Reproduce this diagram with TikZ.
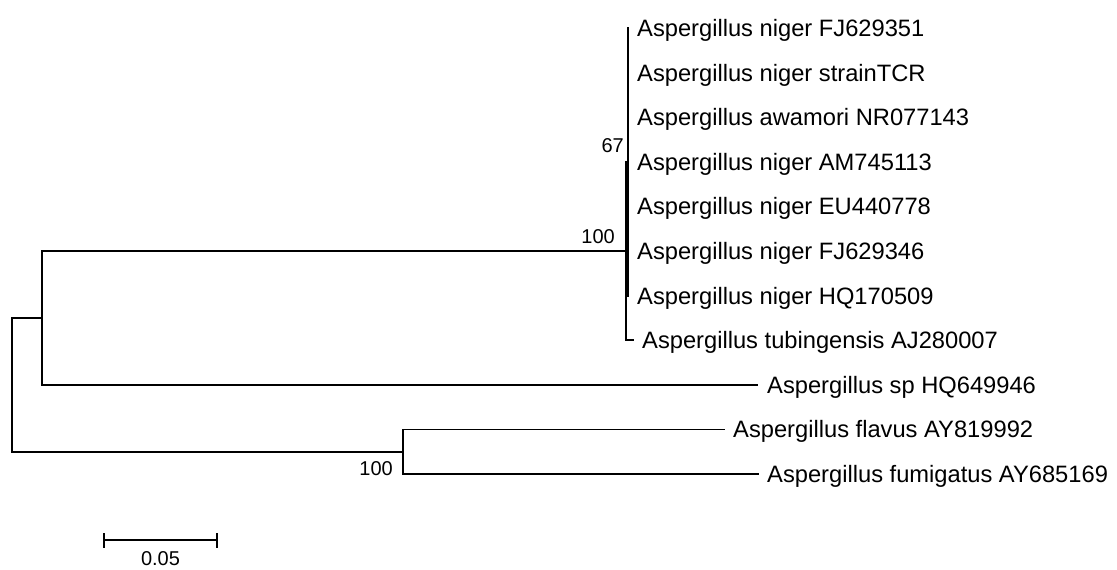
\documentclass[tikz,border=0pt]{standalone}
\usepackage{fontspec}
\setmainfont{Liberation Sans}
\usetikzlibrary{calc}
\begin{document}
\begin{tikzpicture}[x=1pt,y=-1pt,
  branch/.style={line width=1.8pt,line cap=rect},
  taxon/.style={anchor=base west,inner sep=0pt,font=\fontsize{23.7}{28}\selectfont},
  boot/.style={anchor=base east,inner sep=0pt,font=\fontsize{20}{24}\selectfont},
  scaletxt/.style={anchor=base,inner sep=0pt,font=\fontsize{20}{24}\selectfont}]
\useasboundingbox (0,0) rectangle (1117,570);

% internal nodes
\coordinate (root) at (12,384.8);
\coordinate (nA)   at (42,317.9);
\coordinate (nB)   at (403,451.7);
\coordinate (n100) at (626,251);
\coordinate (n67)  at (628,161.8);

% tips
\coordinate (t1)  at (628,28);
\coordinate (t2)  at (628,72.6);
\coordinate (t3)  at (628,117.2);
\coordinate (t4)  at (628,161.8);
\coordinate (t5)  at (628,206.4);
\coordinate (t6)  at (628,251);
\coordinate (t7)  at (628,295.6);
\coordinate (t8)  at (633,340.2);
\coordinate (t9)  at (757,384.8);
\coordinate (t10) at (724,429.4);
\coordinate (t11) at (758,474);

% branches
\draw[branch] (root) |- (nA);
\draw[branch] (root) |- (nB);
\draw[branch] (nA) |- (n100);
\draw[branch] (nA) |- (t9);
\draw[branch] (nB) |- (t10);
\draw[branch] (nB) |- (t11);
\draw[branch] (n100) |- (n67);
\draw[branch] (n100) |- (t8);
\foreach \t in {t1,t2,t3,t4,t5,t6,t7} \draw[branch] (n67) |- (\t);

% taxon labels
\node[taxon] (L1)  at (637,36.5)  {Aspergillus niger FJ629351};
\node[taxon] (L2)  at (637,81.1)  {Aspergillus niger strainTCR};
\node[taxon] (L3)  at (637,125.7) {Aspergillus awamori NR077143};
\node[taxon] (L4)  at (637,170.3) {Aspergillus niger AM745113};
\node[taxon] (L5)  at (637,214.9) {Aspergillus niger EU440778};
\node[taxon] (L6)  at (637,259.5) {Aspergillus niger FJ629346};
\node[taxon] (L7)  at (637,304.1) {Aspergillus niger HQ170509};
\node[taxon] (L8)  at (642,348.7) {Aspergillus tubingensis AJ280007};
\node[taxon] (L9)  at (767,393.3) {Aspergillus sp HQ649946};
\node[taxon] (L10) at (733,437.9) {Aspergillus flavus AY819992};
\node[taxon] (L11) at (767,482.5) {Aspergillus fumigatus AY685169};

% bootstrap values
\node[boot] (b100a) at (615,243) {100};
\node[boot] (b67)   at (624,152) {67};
\node[boot] (b100b) at (393,475) {100};

% scale bar
\coordinate (s0) at (104,540);
\coordinate (s1) at (217,540);
\draw[line width=1.6pt] (s0) -- (s1);
\draw[line width=1.6pt] ($(s0)+(0,-7)$) -- ($(s0)+(0,8)$);
\draw[line width=1.6pt] ($(s1)+(0,-7)$) -- ($(s1)+(0,8)$);
\node[scaletxt] (sl) at (160.5,565) {0.05};
\end{tikzpicture}
\end{document}
